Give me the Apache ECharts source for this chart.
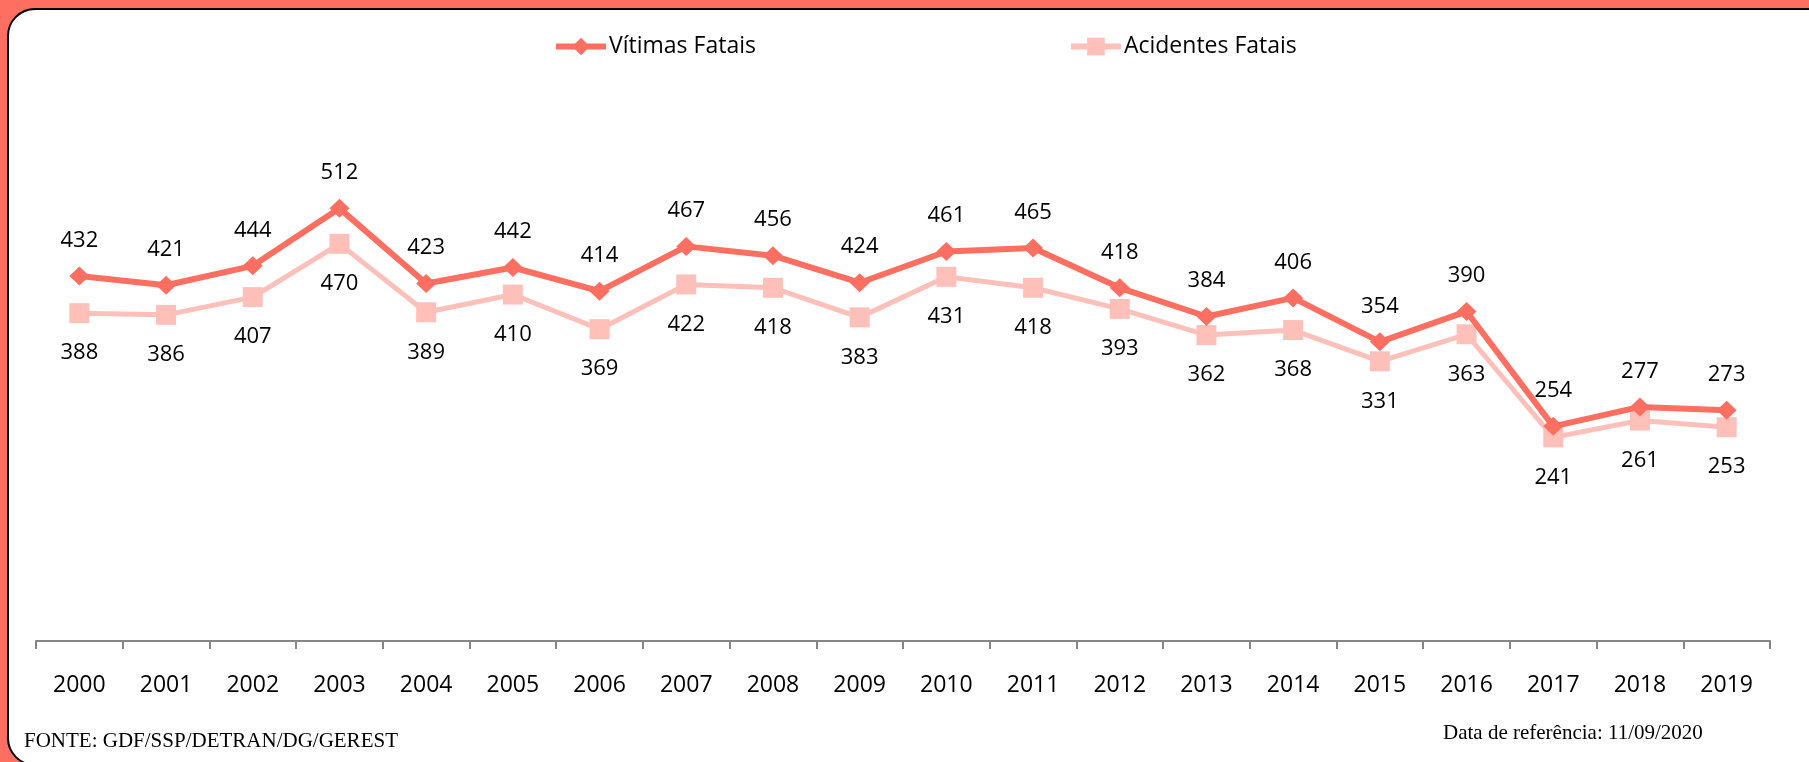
<!DOCTYPE html>
<html>
<head>
<meta charset="utf-8">
<script src="https://cdn.jsdelivr.net/npm/echarts@6/dist/echarts.min.js"></script>
<style>
  html, body { margin: 0; padding: 0; width: 1809px; height: 762px; overflow: hidden; background: #FF6F61; }
  #box { position: absolute; left: 7px; top: 8px; width: 1860px; height: 758px; background: #fff; border: 2.5px solid #000; border-radius: 28px; box-sizing: border-box; }
  #chart { position: absolute; left: 0; top: 0; width: 1809px; height: 762px; }
</style>
</head>
<body>
<div id="box"></div>
<div id="chart"></div>
<script>
const years = ['2000','2001','2002','2003','2004','2005','2006','2007','2008','2009','2010','2011','2012','2013','2014','2015','2016','2017','2018','2019'];
const vitimasFatais = [432,421,444,512,423,442,414,467,456,424,461,465,418,384,406,354,390,254,277,273];
const acidentesFatais = [388,386,407,470,389,410,369,422,418,383,431,418,393,362,368,331,363,241,261,253];
const sourceText = 'FONTE: GDF/SSP/DETRAN/DG/GEREST';
const dateText = 'Data de referência: 11/09/2020';

const chart = echarts.init(document.getElementById('chart'), null, { renderer: 'canvas' });
const labelFont = { fontFamily: 'Open Sans', fontSize: 22, color: '#000' };
chart.setOption({
  animation: false,
  backgroundColor: 'transparent',
  grid: { left: 36, right: 39, top: 134, bottom: 121 },
  legend: {
    top: 30, left: 548, itemGap: 312, itemWidth: 50, itemHeight: 22,
    lineStyle: { width: 6 },
    textStyle: { fontFamily: 'Open Sans', fontSize: 23, color: '#000', padding: [0, 0, 0, -2] },
    data: ['Vítimas Fatais', 'Acidentes Fatais']
  },
  xAxis: {
    type: 'category', data: years, boundaryGap: true,
    axisLine: { lineStyle: { color: '#868686', width: 2 } },
    axisTick: { show: true, length: 8, lineStyle: { color: '#868686', width: 2 } },
    axisLabel: { margin: 33, fontFamily: 'Open Sans', fontSize: 23, color: '#000' }
  },
  yAxis: { type: 'value', min: 0, max: 600, show: false, splitLine: { show: false } },
  series: [
    {
      name: 'Vítimas Fatais', type: 'line', data: vitimasFatais,
      symbol: 'diamond', symbolSize: [20, 19],
      itemStyle: { color: '#FF6F61' },
      lineStyle: { color: '#FF6F61', width: 6 },
      label: Object.assign({ show: true, position: 'top', distance: 15 }, labelFont),
      z: 3
    },
    {
      name: 'Acidentes Fatais', type: 'line', data: acidentesFatais,
      symbol: 'rect', symbolSize: 20,
      itemStyle: { color: '#FFC0BA' },
      lineStyle: { color: '#FFC0BA', width: 5 },
      label: Object.assign({ show: true, position: 'bottom', distance: 19 }, labelFont),
      z: 2
    }
  ],
  graphic: [
    { type: 'text', left: 24, top: 731, style: { text: sourceText, font: '21px "Liberation Serif"', fill: '#000' } },
    { type: 'text', left: 1443, top: 723, style: { text: dateText, font: '21px "Liberation Serif"', fill: '#000' } }
  ]
});
</script>
</body>
</html>
